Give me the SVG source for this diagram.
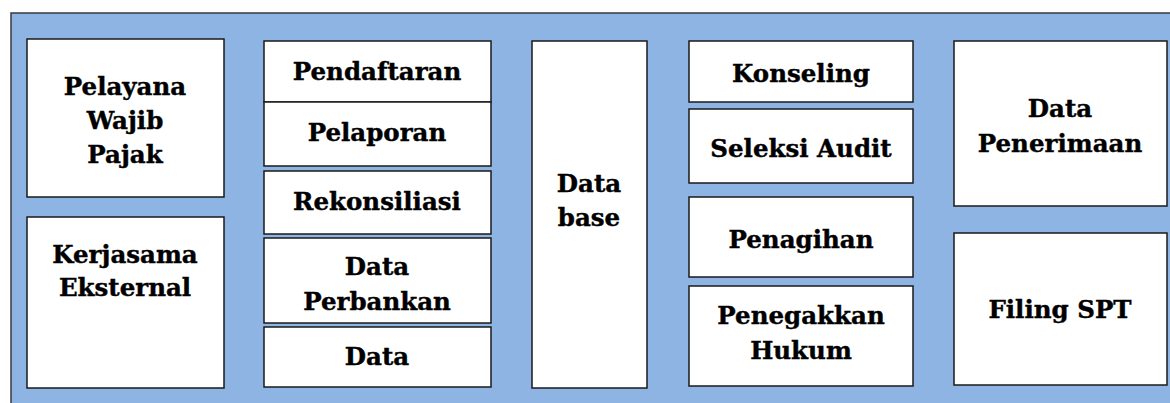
<svg xmlns="http://www.w3.org/2000/svg" width="1170" height="403" viewBox="0 0 1170 403">
<style>
.frame{fill:#8EB4E3;stroke:#3a3a3a;stroke-width:1.5}
.box{fill:#ffffff;stroke:#1a1a1a;stroke-width:1.5}
.t{font-family:"DejaVu Serif","Liberation Serif",serif;font-weight:bold;font-size:24.5px;fill:#000;stroke:#000;stroke-width:0.4;text-anchor:middle}
</style>
<rect width="1170" height="403" fill="#ffffff"/>
<rect class="frame" x="11" y="13" width="1180" height="400"/>
<g id="pelayanan">
<rect class="box" x="27" y="39" width="197" height="158"/>
<text class="t" x="125" y="95">Pelayana</text>
<text class="t" x="125" y="129">Wajib</text>
<text class="t" x="125" y="163">Pajak</text>
</g>
<g id="kerjasama">
<rect class="box" x="27" y="217" width="197" height="171"/>
<text class="t" x="125" y="263">Kerjasama</text>
<text class="t" x="125" y="296">Eksternal</text>
</g>
<g id="pendaftaran">
<rect class="box" x="264" y="41" width="227" height="61"/>
<text class="t" x="377" y="80">Pendaftaran</text>
</g>
<g id="pelaporan">
<rect class="box" x="264" y="102" width="227" height="64"/>
<text class="t" x="377" y="141">Pelaporan</text>
</g>
<g id="rekonsiliasi">
<rect class="box" x="264" y="171" width="227" height="63"/>
<text class="t" x="377" y="210">Rekonsiliasi</text>
</g>
<g id="data-perbankan">
<rect class="box" x="264" y="238" width="227" height="85"/>
<text class="t" x="377" y="275">Data</text>
<text class="t" x="377" y="310">Perbankan</text>
</g>
<g id="data">
<rect class="box" x="264" y="327" width="227" height="60"/>
<text class="t" x="377" y="365">Data</text>
</g>
<g id="database">
<rect class="box" x="532" y="41" width="115" height="347"/>
<text class="t" x="589" y="192">Data</text>
<text class="t" x="589" y="226">base</text>
</g>
<g id="konseling">
<rect class="box" x="689" y="41" width="224" height="61"/>
<text class="t" x="801" y="82">Konseling</text>
</g>
<g id="seleksi-audit">
<rect class="box" x="689" y="109" width="224" height="74"/>
<text class="t" x="801" y="157">Seleksi Audit</text>
</g>
<g id="penagihan">
<rect class="box" x="689" y="197" width="224" height="80"/>
<text class="t" x="801" y="248">Penagihan</text>
</g>
<g id="penegakkan-hukum">
<rect class="box" x="689" y="286" width="224" height="100"/>
<text class="t" x="801" y="324">Penegakkan</text>
<text class="t" x="801" y="359">Hukum</text>
</g>
<g id="data-penerimaan">
<rect class="box" x="954" y="41" width="213" height="165"/>
<text class="t" x="1060" y="117">Data</text>
<text class="t" x="1060" y="152">Penerimaan</text>
</g>
<g id="filing-spt">
<rect class="box" x="954" y="233" width="213" height="152"/>
<text class="t" x="1060" y="318">Filing SPT</text>
</g>
<g id="connectors"></g>
</svg>
